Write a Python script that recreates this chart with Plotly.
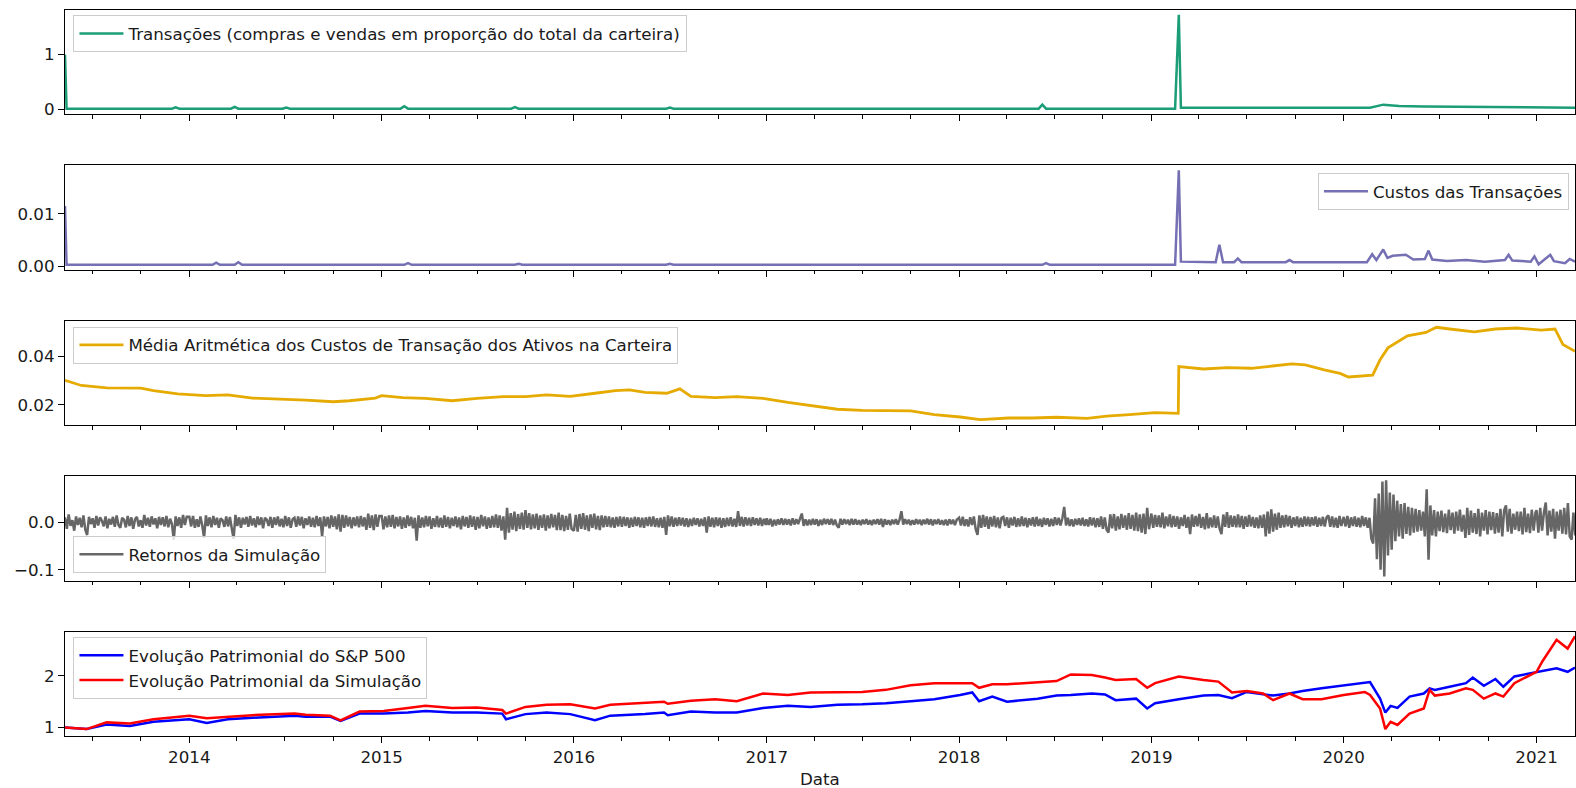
import pandas as pd
import plotly.graph_objects as go
from plotly.subplots import make_subplots

# ---------------- data ----------------
tx_dates = ["2013-05-10","2013-05-13","2013-11-29","2013-12-06","2013-12-13","2014-03-21","2014-03-28","2014-04-04",
            "2014-06-27","2014-07-04","2014-07-11","2015-02-06","2015-02-13","2015-02-20","2015-09-04","2015-09-11",
            "2015-09-18","2016-06-24","2016-07-01","2016-07-08","2018-06-01","2018-06-08","2018-06-15","2019-02-15",
            "2019-02-22","2019-02-26","2019-06-01","2020-02-20","2020-03-16","2020-04-15","2020-06-01","2020-09-01",
            "2020-12-01","2021-03-15"]
tx_values = [1.00,0.012,0.012,0.035,0.012,0.012,0.045,0.012,
             0.012,0.030,0.012,0.012,0.055,0.012,0.012,0.040,
             0.012,0.012,0.030,0.012,0.012,0.085,0.012,0.012,
             1.73,0.030,0.028,0.030,0.085,0.060,0.050,0.042,
             0.035,0.030]

cost_dates = ["2013-05-10","2013-05-13","2014-02-14","2014-02-21","2014-02-28","2014-03-28","2014-04-04","2014-04-11",
              "2015-02-13","2015-02-20","2015-02-27","2015-09-11","2015-09-18","2015-09-25","2016-06-24","2016-07-01",
              "2016-07-08","2018-06-08","2018-06-15","2018-06-22","2019-02-15","2019-02-22","2019-02-26","2019-05-03",
              "2019-05-10","2019-05-17","2019-06-07","2019-06-14","2019-06-21","2019-09-13","2019-09-20","2019-09-27",
              "2020-02-14","2020-02-24","2020-03-03","2020-03-16","2020-03-24","2020-04-03","2020-04-28","2020-05-12",
              "2020-06-03","2020-06-10","2020-06-17","2020-07-15","2020-08-20","2020-09-25","2020-11-02","2020-11-09",
              "2020-11-16","2020-12-21","2020-12-28","2021-01-05","2021-01-27","2021-02-03","2021-02-24","2021-03-05",
              "2021-03-15"]
cost_values = [0.0115,0.0003,0.0003,0.0007,0.0003,0.0003,0.0008,0.0003,
               0.0003,0.0006,0.0003,0.0003,0.0005,0.0003,0.0003,0.0005,
               0.0003,0.0003,0.0006,0.0003,0.0003,0.0183,0.0009,0.0008,
               0.0041,0.0008,0.0008,0.0015,0.0008,0.0008,0.0012,0.0008,
               0.0008,0.0023,0.0012,0.0032,0.0016,0.0020,0.0022,0.0013,
               0.0014,0.0030,0.0013,0.0010,0.0012,0.0009,0.0012,0.0022,
               0.0011,0.0009,0.0019,0.0004,0.0022,0.0010,0.0006,0.0014,
               0.0009]

mean_cost_dates = ["2013-05-10","2013-06-10","2013-07-28","2013-10-01","2013-10-25","2013-12-10",
                   "2014-02-01","2014-03-15","2014-05-01","2014-06-15","2014-08-10","2014-10-01","2014-11-01","2014-12-20",
                   "2015-01-01","2015-02-10","2015-03-25","2015-05-15","2015-07-01","2015-08-20","2015-10-01","2015-11-10","2015-12-25",
                   "2016-02-10","2016-03-20","2016-04-15","2016-05-15","2016-06-25","2016-07-20","2016-08-10","2016-09-25","2016-11-05","2016-12-25",
                   "2017-02-10","2017-03-25","2017-05-15","2017-07-01","2017-08-15","2017-10-01","2017-11-15",
                   "2018-01-03","2018-02-10","2018-04-05","2018-05-20","2018-07-05","2018-09-01","2018-10-08","2018-11-20",
                   "2019-01-08","2019-02-21","2019-02-22","2019-04-10","2019-05-25","2019-07-10","2019-08-25","2019-09-25","2019-10-20","2019-11-25","2019-12-25",
                   "2020-01-10","2020-02-25","2020-03-10","2020-03-25","2020-05-01","2020-06-05","2020-06-25","2020-07-20","2020-09-05","2020-10-15","2020-11-25",
                   "2021-01-10","2021-02-05","2021-02-20","2021-03-15"]
mean_cost_values = [0.0301,0.0280,0.0270,0.0269,0.0259,0.0245,
                    0.0238,0.0241,0.0228,0.0225,0.0220,0.0213,0.0217,0.0228,
                    0.0238,0.0230,0.0227,0.0217,0.0227,0.0234,0.0234,0.0241,0.0235,
                    0.0248,0.0259,0.0262,0.0252,0.0248,0.0266,0.0235,0.0230,0.0234,0.0227,
                    0.0210,0.0196,0.0182,0.0177,0.0175,0.0175,0.0160,
                    0.0150,0.0139,0.0146,0.0146,0.0149,0.0144,0.0154,0.0160,
                    0.0168,0.0165,0.0358,0.0348,0.0354,0.0351,0.0361,0.0369,0.0365,0.0344,0.0330,
                    0.0315,0.0323,0.0386,0.0435,0.0485,0.0499,0.0520,0.0513,0.0501,0.0513,0.0517,
                    0.0508,0.0513,0.0449,0.0421]

# simulation returns, one value every 3.5 days, one list per year
returns_2013 = [0.010,-0.014,0.016,-0.008,0.004,-0.018,0.012,-0.006,0.009,-0.011,0.014,-0.016,
                -0.027,0.011,-0.004,0.008,-0.012,0.013,-0.007,0.010,0.003,-0.009,0.012,-0.013,
                0.007,-0.005,0.011,-0.010,0.014,-0.006,-0.012,0.009,0.005,-0.011,0.013,-0.008,
                0.010,-0.014,0.006,0.011,-0.009,0.004,-0.012,0.015,-0.007,0.009,-0.010,0.012,
                -0.005,0.008,-0.013,0.011,-0.006,0.010,-0.009,0.013,-0.011,0.007,-0.004,-0.037,
                0.012,-0.008,0.010,-0.012,0.015,-0.006,0.011]
returns_2014 = [0.011,-0.009,0.013,-0.012,0.006,-0.010,0.012,-0.007,-0.033,0.014,-0.008,0.010,
                -0.011,0.013,-0.006,0.009,-0.012,0.008,0.004,-0.010,0.012,-0.009,0.011,-0.013,
                -0.035,0.015,-0.008,0.010,-0.012,0.009,-0.005,0.011,-0.010,0.013,-0.007,0.008,
                -0.011,0.012,-0.006,0.010,-0.013,0.009,0.005,-0.008,0.011,-0.012,0.010,-0.006,
                0.012,-0.009,0.007,-0.011,0.013,-0.008,0.010,-0.012,0.006,0.009,-0.010,0.012,
                -0.007,0.011,-0.013,0.008,-0.006,0.012,-0.010,0.009,-0.011,0.013,-0.008,0.010,
                -0.030,0.012,-0.009,0.011,-0.013,0.014,-0.010,0.012,-0.015,0.016,-0.020,0.015,
                -0.012,0.014,-0.009,0.011,-0.013,0.010,-0.008,0.012,-0.011,0.013,-0.009,0.010,
                -0.016,0.018,-0.012,0.014,-0.017,0.016,-0.010,0.013]
returns_2015 = [0.013,-0.015,0.012,-0.011,0.014,-0.010,0.015,-0.013,0.011,-0.009,0.012,-0.014,
                0.010,-0.012,0.014,-0.008,0.011,-0.013,0.009,-0.039,0.014,-0.012,0.010,-0.011,
                0.013,-0.009,0.012,-0.014,0.008,-0.010,0.013,-0.011,0.009,-0.012,0.014,-0.010,
                0.011,-0.013,0.009,-0.008,0.012,-0.011,0.010,-0.015,0.013,-0.009,0.011,-0.012,
                0.014,-0.010,0.012,-0.016,0.011,-0.013,0.015,-0.009,0.012,-0.014,0.010,-0.012,
                0.013,-0.011,0.016,-0.012,0.014,-0.018,0.012,-0.037,0.030,-0.022,0.019,-0.016,
                0.022,-0.019,0.017,-0.014,0.020,-0.016,0.025,-0.012,0.019,-0.015,0.016,-0.013,
                0.018,-0.016,0.014,-0.012,0.016,-0.018,0.014,-0.013,0.017,-0.011,0.015,-0.017,
                0.020,-0.017,0.015,-0.019,0.013,-0.016,0.018,-0.014]
returns_2016 = [-0.018,0.015,-0.020,0.017,-0.014,0.019,-0.016,0.014,-0.019,0.016,-0.012,0.018,
                -0.015,0.013,-0.017,0.014,-0.011,0.013,-0.010,0.012,-0.011,0.010,-0.012,0.011,
                -0.009,0.012,-0.010,0.011,-0.008,0.010,-0.012,0.009,-0.010,0.011,-0.008,0.010,
                -0.011,0.009,-0.012,0.010,-0.008,0.011,-0.009,0.012,-0.010,0.008,-0.011,0.009,
                -0.012,0.011,-0.027,0.014,-0.009,0.012,-0.010,0.009,-0.008,0.010,-0.007,0.009,
                -0.009,0.008,-0.010,0.007,-0.008,0.009,-0.006,0.008,-0.009,0.007,-0.008,0.010,
                -0.022,0.012,-0.010,0.009,-0.011,0.010,-0.008,0.009,-0.012,0.008,-0.010,0.009,
                -0.008,0.010,-0.009,0.007,-0.010,0.023,-0.008,0.011,-0.009,0.010,-0.007,0.009,
                -0.008,0.010,-0.006,0.008,-0.007,0.009,-0.008,0.007,-0.006]
returns_2017 = [0.008,-0.006,0.007,-0.009,0.005,-0.007,0.006,-0.005,0.008,-0.006,0.007,-0.005,
                0.006,-0.007,0.008,-0.005,0.006,-0.004,0.007,0.018,-0.008,0.006,-0.007,0.005,
                -0.006,0.007,-0.005,0.006,-0.008,0.005,-0.006,0.007,-0.004,0.006,-0.005,0.007,
                -0.006,0.005,-0.007,-0.012,0.007,-0.005,0.006,-0.004,0.005,-0.006,0.007,-0.005,
                0.006,-0.005,0.004,-0.006,0.005,-0.004,0.006,-0.005,0.004,-0.006,0.005,-0.004,
                0.006,-0.005,0.007,-0.010,0.006,-0.005,0.004,-0.006,0.005,-0.004,0.006,-0.005,
                0.005,0.023,-0.005,0.006,-0.004,0.005,-0.006,0.004,-0.005,0.006,-0.004,0.005,
                -0.006,0.005,-0.004,0.007,-0.005,0.006,-0.007,0.005,-0.004,0.006,-0.005,0.004,
                -0.006,0.005,-0.007,0.006,-0.004,0.005,-0.006,0.005]
returns_2018 = [0.009,-0.007,0.011,-0.008,0.006,-0.009,0.010,-0.006,0.012,-0.015,-0.027,0.014,
                -0.012,0.015,-0.010,0.012,-0.014,0.011,-0.009,0.013,-0.011,0.010,-0.013,0.009,
                0.011,-0.008,0.010,-0.012,0.009,-0.007,0.011,-0.010,0.008,-0.009,0.012,-0.008,
                0.009,-0.011,0.008,-0.007,0.010,-0.009,0.011,-0.008,0.007,-0.010,0.009,-0.006,
                0.008,-0.009,0.007,-0.008,0.010,-0.006,0.009,-0.007,0.008,0.032,-0.007,0.009,
                -0.008,0.006,-0.009,0.007,-0.006,0.008,-0.007,0.009,-0.008,0.006,-0.009,0.010,
                -0.007,0.009,-0.011,0.008,-0.010,0.012,-0.014,0.010,-0.016,-0.022,0.016,-0.013,
                0.017,-0.018,0.012,-0.015,0.017,-0.012,0.014,-0.016,0.019,-0.014,0.015,-0.018,
                0.020,-0.019,0.016,-0.022,0.018,-0.025,0.030,-0.015]
returns_2019 = [0.018,-0.012,0.015,-0.010,0.014,-0.011,0.020,-0.013,0.012,-0.009,0.016,-0.011,
                0.013,-0.010,0.012,-0.014,0.010,-0.008,0.015,-0.012,0.011,-0.025,0.016,-0.010,
                0.013,-0.009,0.017,-0.012,0.011,-0.015,0.019,-0.013,0.010,-0.011,0.014,-0.012,
                0.012,-0.014,-0.025,0.016,-0.010,0.021,-0.012,0.014,-0.010,0.013,-0.011,0.016,
                -0.011,0.013,-0.014,0.012,-0.010,0.015,-0.009,0.011,-0.012,0.010,-0.013,0.014,
                -0.012,0.016,-0.030,0.022,-0.024,0.027,-0.020,0.018,-0.016,0.020,-0.012,0.014,
                -0.011,0.015,-0.009,0.013,-0.012,0.010,-0.008,0.012,-0.011,0.009,-0.010,0.012,
                -0.008,0.011,-0.009,0.010,-0.007,0.012,-0.010,0.009,-0.008,0.011,-0.009,0.010,
                0.014,-0.010,0.012,-0.011,0.009,-0.012,0.013,-0.008]
returns_2020 = [0.011,-0.009,0.013,-0.012,0.010,-0.008,0.012,-0.010,0.009,-0.011,0.013,-0.008,
                0.010,-0.012,0.009,-0.035,-0.045,0.050,-0.078,0.060,-0.100,0.085,-0.114,0.088,
                -0.070,0.062,-0.058,0.058,-0.040,0.045,-0.030,0.038,-0.035,0.040,-0.025,0.032,
                -0.028,0.030,-0.022,0.028,-0.020,0.025,-0.018,0.022,-0.030,0.069,-0.079,0.035,
                -0.028,0.025,-0.030,0.022,-0.019,0.024,-0.021,0.018,-0.023,0.026,-0.017,0.020,
                -0.024,0.022,-0.018,0.026,-0.020,0.015,-0.033,0.030,-0.027,0.024,-0.022,0.019,
                -0.025,0.028,-0.030,0.020,-0.018,0.025,-0.026,0.022,-0.017,0.021,-0.024,0.019,
                -0.022,0.028,-0.030,0.025,0.035,-0.020,0.028,-0.024,0.018,-0.016,0.022,-0.019,
                0.022,-0.026,0.030,-0.021,0.018,-0.023,0.026,-0.018,0.020]
returns_2021 = [0.025,-0.022,0.030,-0.018,0.020,0.041,-0.028,0.024,-0.020,0.028,-0.035,0.022,
                -0.018,0.026,-0.024,0.030,-0.026,0.040,-0.030,-0.037,0.020,-0.028]
returns_by_year = [("2013-05-10", returns_2013), ("2014-01-01", returns_2014),
                   ("2015-01-01", returns_2015), ("2016-01-01", returns_2016),
                   ("2017-01-01", returns_2017), ("2018-01-01", returns_2018),
                   ("2019-01-01", returns_2019), ("2020-01-01", returns_2020),
                   ("2021-01-01", returns_2021)]

wealth_dates = ["2013-05-10","2013-06-20","2013-07-28","2013-09-10","2013-10-25",
                "2014-01-01","2014-02-03","2014-03-15","2014-05-01","2014-07-20","2014-08-10","2014-09-25","2014-10-15","2014-11-20",
                "2015-01-05","2015-02-20","2015-03-25","2015-05-15","2015-07-01","2015-08-18","2015-08-25","2015-10-01","2015-11-10","2015-12-25",
                "2016-02-10","2016-03-10","2016-05-15","2016-06-20","2016-06-27","2016-08-10","2016-09-25","2016-11-05","2016-12-25",
                "2017-02-10","2017-03-25","2017-05-15","2017-07-01","2017-08-15","2017-10-01","2017-11-15",
                "2018-01-03","2018-01-26","2018-02-08","2018-03-05","2018-04-02","2018-05-30","2018-07-05","2018-08-01","2018-09-10","2018-10-05","2018-10-25","2018-12-03","2018-12-24",
                "2019-01-08","2019-02-22","2019-04-10","2019-05-08","2019-06-03","2019-07-01","2019-08-01","2019-08-20","2019-09-20","2019-10-15","2019-11-20",
                "2020-01-01","2020-02-10","2020-02-20","2020-03-10","2020-03-20","2020-03-30","2020-04-12","2020-05-05","2020-06-01","2020-06-12","2020-06-22","2020-07-20","2020-08-20","2020-09-02","2020-09-23","2020-10-15","2020-10-30","2020-11-20",
                "2021-01-01","2021-01-12","2021-02-08","2021-03-01","2021-03-15"]
sp500_wealth = [1.00,0.97,1.06,1.03,1.11,
                1.16,1.09,1.16,1.19,1.23,1.21,1.21,1.13,1.27,
                1.27,1.29,1.32,1.29,1.29,1.27,1.16,1.26,1.29,1.26,
                1.14,1.23,1.26,1.29,1.24,1.31,1.29,1.29,1.38,
                1.42,1.40,1.44,1.45,1.47,1.51,1.55,
                1.63,1.68,1.51,1.60,1.50,1.56,1.62,1.63,1.66,1.64,1.53,1.56,1.37,
                1.47,1.55,1.62,1.63,1.57,1.69,1.65,1.62,1.66,1.71,1.76,
                1.81,1.86,1.88,1.56,1.29,1.42,1.38,1.60,1.66,1.76,1.73,1.79,1.86,1.97,1.81,1.94,1.79,1.99,
                2.08,2.10,2.15,2.08,2.16]
sim_wealth = [1.00,0.97,1.10,1.08,1.16,
              1.23,1.18,1.21,1.24,1.27,1.25,1.23,1.14,1.31,
              1.32,1.38,1.42,1.38,1.39,1.34,1.27,1.40,1.44,1.45,
              1.37,1.44,1.48,1.50,1.46,1.52,1.55,1.51,1.66,
              1.63,1.68,1.68,1.69,1.73,1.82,1.86,
              1.86,1.86,1.77,1.84,1.84,1.88,1.90,2.03,2.02,1.97,1.92,1.94,1.77,
              1.86,1.99,1.92,1.89,1.68,1.71,1.66,1.53,1.66,1.55,1.55,
              1.63,1.69,1.63,1.37,0.97,1.11,1.05,1.27,1.37,1.73,1.62,1.66,1.76,1.73,1.56,1.66,1.60,1.86,
              2.08,2.28,2.70,2.53,2.77]

# ---------------- build ----------------
def pair(d, v):
    n = min(len(d), len(v))
    return pd.to_datetime(d[:n]), v[:n]

ret_x, ret_y = [], []
for start, vals in returns_by_year:
    ret_x.extend(pd.date_range(start, periods=len(vals), freq="84h"))
    ret_y.extend(vals)

FONT = "DejaVu Sans"
FS = 16.7
TXT = "#1a1a1a"
LW = 2.5

fig = make_subplots(rows=5, cols=1, shared_xaxes=True, vertical_spacing=0.0709)

x, y = pair(tx_dates, tx_values)
fig.add_trace(go.Scatter(x=x, y=y, mode="lines", line=dict(color="#1b9e77", width=LW),
                         name="Transações (compras e vendas em proporção do total da carteira)",
                         legend="legend"), row=1, col=1)
x, y = pair(cost_dates, cost_values)
fig.add_trace(go.Scatter(x=x, y=y, mode="lines", line=dict(color="#7570b3", width=LW),
                         name="Custos das Transações", legend="legend2"), row=2, col=1)
x, y = pair(mean_cost_dates, mean_cost_values)
fig.add_trace(go.Scatter(x=x, y=y, mode="lines", line=dict(color="#e6ab02", width=2.8),
                         name="Média Aritmética dos Custos de Transação dos Ativos na Carteira",
                         legend="legend3"), row=3, col=1)
fig.add_trace(go.Scatter(x=ret_x, y=ret_y, mode="lines", line=dict(color="#666666", width=LW),
                         name="Retornos da Simulação", legend="legend4"), row=4, col=1)
x, y = pair(wealth_dates, sp500_wealth)
fig.add_trace(go.Scatter(x=x, y=y, mode="lines", line=dict(color="blue", width=LW),
                         name="Evolução Patrimonial do S&P 500", legend="legend5"), row=5, col=1)
x, y = pair(wealth_dates, sim_wealth)
fig.add_trace(go.Scatter(x=x, y=y, mode="lines", line=dict(color="red", width=LW),
                         name="Evolução Patrimonial da Simulação", legend="legend5"), row=5, col=1)

all_dates = pd.to_datetime(tx_dates + cost_dates + mean_cost_dates + wealth_dates)
xr = [all_dates.min(), all_dates.max()]

axis_common = dict(showline=True, linecolor="black", linewidth=1.2, mirror=True, showgrid=False,
                   zeroline=False, ticks="outside", ticklen=6, tickwidth=1.2, tickcolor="black",
                   automargin=False, tickfont=dict(family=FONT, size=FS, color=TXT))
for i in range(1, 6):
    fig.update_xaxes(row=i, col=1, range=xr, dtick="M12", tick0="2014-01-01", tickformat="%Y",
                     minor=dict(ticks="outside", dtick="M3", tick0="2014-01-01", ticklen=3.5,
                                tickcolor="black", tickwidth=1),
                     showticklabels=(i == 5), **axis_common)

fig.update_yaxes(row=1, col=1, range=[-0.0865, 1.8165], dtick=1, tick0=0, **axis_common)
fig.update_yaxes(row=2, col=1, range=[-0.0006, 0.0192], dtick=0.01, tick0=0, tickformat=".2f", **axis_common)
fig.update_yaxes(row=3, col=1, range=[0.0117, 0.0546], dtick=0.02, tick0=0, tickformat=".2f", **axis_common)
fig.update_yaxes(row=4, col=1, range=[-0.1226, 0.0958], dtick=0.1, tick0=0, tickformat=".1f", **axis_common)
fig.update_yaxes(row=5, col=1, range=[0.836, 2.852], dtick=1, tick0=0, **axis_common)

leg_common = dict(bgcolor="rgba(255,255,255,0.8)", bordercolor="#cccccc", borderwidth=1,
                  font=dict(family=FONT, size=FS, color=TXT), itemwidth=44)
fig.update_layout(
    width=1576, height=788,
    margin=dict(l=65, r=1, t=10, b=52, autoexpand=False),
    plot_bgcolor="white", paper_bgcolor="white",
    font=dict(family=FONT, size=FS, color=TXT),
    showlegend=True,
    legend=dict(x=0.0056, y=0.993, xanchor="left", yanchor="top", **leg_common),
    legend2=dict(x=0.996, y=0.7755, xanchor="right", yanchor="top", **leg_common),
    legend3=dict(x=0.0056, y=0.564, xanchor="left", yanchor="top", **leg_common),
    legend4=dict(x=0.0056, y=0.2245, xanchor="left", yanchor="bottom", **leg_common),
    legend5=dict(x=0.0056, y=0.1364, xanchor="left", yanchor="top", **leg_common),
    annotations=[dict(text="Data", x=0.5, y=-0.059, xref="paper", yref="paper",
                      xanchor="center", yanchor="middle", showarrow=False,
                      font=dict(family=FONT, size=FS, color=TXT))],
)

fig.write_html("out.html", config={"displayModeBar": False},
               post_script="document.body.style.margin='0';document.body.style.overflow='hidden';")
